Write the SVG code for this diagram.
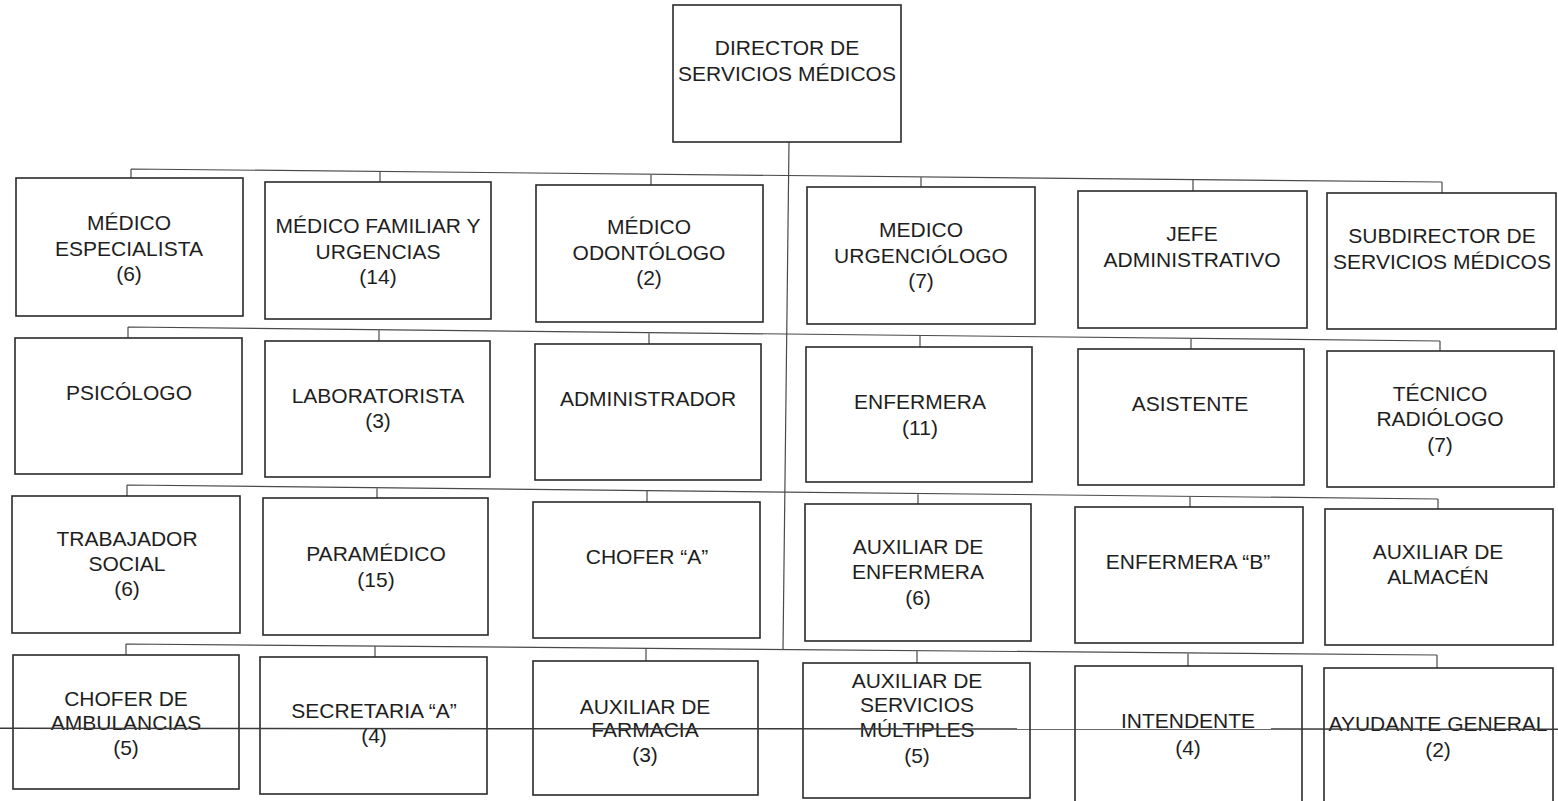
<svg xmlns="http://www.w3.org/2000/svg" width="1558" height="801" viewBox="0 0 1558 801">
<style>
.box{fill:#fff;stroke:#2a2a2a;stroke-width:1.6}
.lbl{font-family:"Liberation Sans",Arial,sans-serif;font-size:21px;fill:#1e1e1e;text-anchor:middle}
.con{fill:none;stroke:#4a4a4a;stroke-width:1.2}
</style>
<rect width="1558" height="801" fill="#fff"/>
<g id="connectors">
<path class="con" d="M789,142 L783,650"/>
<path class="con" d="M131,169 L1442,182 M131,169 V178 M380,171.5 V182 M651,174 V185 M921,177 V187 M1193,179.5 V191 M1442,182 V193"/>
<path class="con" d="M128,327 L1440,341 M128,327 V338 M379,329.7 V341 M649,332.6 V344 M920,335.5 V347 M1191,338.4 V349 M1440,341 V351"/>
<path class="con" d="M127,485 L1438,499 M127,485 V496 M377,487.7 V498 M647,490.6 V502 M918,493.5 V504 M1190,496.4 V507 M1438,499 V509"/>
<path class="con" d="M126,644 L1437,655 M126,644 V655 M375,646 V657 M646,648.4 V661 M917,650.7 V663 M1188,653 V666 M1437,655 V668"/>
</g>
<g id="director"><rect class="box" x="673" y="5" width="228" height="137"/><text class="lbl" x="787" y="55">DIRECTOR DE</text><text class="lbl" x="787" y="81">SERVICIOS MÉDICOS</text></g>

<g id="medico-especialista"><rect class="box" x="16" y="178" width="227" height="138"/><text class="lbl" x="129" y="230">MÉDICO</text><text class="lbl" x="129" y="256">ESPECIALISTA</text><text class="lbl" x="129" y="281">(6)</text></g>
<g id="medico-familiar"><rect class="box" x="265" y="182" width="226" height="137"/><text class="lbl" x="378" y="233">MÉDICO FAMILIAR Y</text><text class="lbl" x="378" y="259">URGENCIAS</text><text class="lbl" x="378" y="284">(14)</text></g>
<g id="medico-odontologo"><rect class="box" x="536" y="185" width="227" height="137"/><text class="lbl" x="649" y="234">MÉDICO</text><text class="lbl" x="649" y="260">ODONTÓLOGO</text><text class="lbl" x="649" y="285">(2)</text></g>
<g id="medico-urgenciologo"><rect class="box" x="807" y="187" width="228" height="137"/><text class="lbl" x="921" y="237">MEDICO</text><text class="lbl" x="921" y="263">URGENCIÓLOGO</text><text class="lbl" x="921" y="288">(7)</text></g>
<g id="jefe-administrativo"><rect class="box" x="1078" y="191" width="229" height="137"/><text class="lbl" x="1192" y="241">JEFE</text><text class="lbl" x="1192" y="267">ADMINISTRATIVO</text></g>
<g id="subdirector"><rect class="box" x="1327" y="193" width="229" height="136"/><text class="lbl" x="1442" y="243">SUBDIRECTOR DE</text><text class="lbl" x="1442" y="269">SERVICIOS MÉDICOS</text></g>

<g id="psicologo"><rect class="box" x="15" y="338" width="227" height="136"/><text class="lbl" x="129" y="400">PSICÓLOGO</text></g>
<g id="laboratorista"><rect class="box" x="265" y="341" width="225" height="136"/><text class="lbl" x="378" y="403">LABORATORISTA</text><text class="lbl" x="378" y="428">(3)</text></g>
<g id="administrador"><rect class="box" x="535" y="344" width="226" height="136"/><text class="lbl" x="648" y="406">ADMINISTRADOR</text></g>
<g id="enfermera"><rect class="box" x="806" y="347" width="226" height="135"/><text class="lbl" x="920" y="409">ENFERMERA</text><text class="lbl" x="920" y="435">(11)</text></g>
<g id="asistente"><rect class="box" x="1078" y="349" width="226" height="136"/><text class="lbl" x="1190" y="411">ASISTENTE</text></g>
<g id="tecnico-radiologo"><rect class="box" x="1327" y="351" width="227" height="136"/><text class="lbl" x="1440" y="401">TÉCNICO</text><text class="lbl" x="1440" y="426">RADIÓLOGO</text><text class="lbl" x="1440" y="452">(7)</text></g>

<g id="trabajador-social"><rect class="box" x="12" y="496" width="228" height="137"/><text class="lbl" x="127" y="546">TRABAJADOR</text><text class="lbl" x="127" y="571">SOCIAL</text><text class="lbl" x="127" y="596">(6)</text></g>
<g id="paramedico"><rect class="box" x="263" y="498" width="225" height="137"/><text class="lbl" x="376" y="561">PARAMÉDICO</text><text class="lbl" x="376" y="587">(15)</text></g>
<g id="chofer-a"><rect class="box" x="533" y="502" width="227" height="136"/><text class="lbl" x="647" y="564">CHOFER “A”</text></g>
<g id="auxiliar-enfermera"><rect class="box" x="805" y="504" width="226" height="137"/><text class="lbl" x="918" y="554">AUXILIAR DE</text><text class="lbl" x="918" y="579">ENFERMERA</text><text class="lbl" x="918" y="605">(6)</text></g>
<g id="enfermera-b"><rect class="box" x="1075" y="507" width="228" height="136"/><text class="lbl" x="1188" y="569">ENFERMERA “B”</text></g>
<g id="auxiliar-almacen"><rect class="box" x="1325" y="509" width="228" height="136"/><text class="lbl" x="1438" y="559">AUXILIAR DE</text><text class="lbl" x="1438" y="584">ALMACÉN</text></g>

<g id="chofer-ambulancias"><rect class="box" x="13" y="655" width="226" height="134"/><text class="lbl" x="126" y="706">CHOFER DE</text><text class="lbl" x="126" y="730">AMBULANCIAS</text><text class="lbl" x="126" y="755">(5)</text></g>
<g id="secretaria-a"><rect class="box" x="260" y="657" width="227" height="137"/><text class="lbl" x="374" y="718">SECRETARIA “A”</text><text class="lbl" x="374" y="743">(4)</text></g>
<g id="auxiliar-farmacia"><rect class="box" x="533" y="661" width="225" height="134"/><text class="lbl" x="645" y="714">AUXILIAR DE</text><text class="lbl" x="645" y="737">FARMACIA</text><text class="lbl" x="645" y="762">(3)</text></g>
<g id="auxiliar-servicios"><rect class="box" x="803" y="663" width="227" height="135"/><text class="lbl" x="917" y="688">AUXILIAR DE</text><text class="lbl" x="917" y="712">SERVICIOS</text><text class="lbl" x="917" y="737">MÚLTIPLES</text><text class="lbl" x="917" y="763">(5)</text></g>
<g id="intendente"><rect class="box" x="1075" y="666" width="227" height="145"/><text class="lbl" x="1188" y="728">INTENDENTE</text><text class="lbl" x="1188" y="755">(4)</text></g>
<g id="ayudante-general"><rect class="box" x="1324" y="668" width="229" height="145"/><text class="lbl" x="1438" y="731">AYUDANTE GENERAL</text><text class="lbl" x="1438" y="757">(2)</text></g>

<line x1="0" y1="728.3" x2="1558" y2="729.3" stroke="#3a3a3a" stroke-width="1.5"/>
</svg>
